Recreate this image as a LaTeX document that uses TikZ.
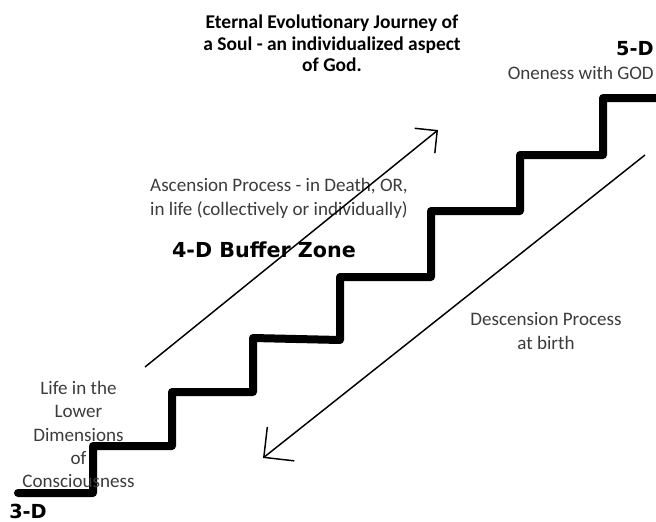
\documentclass[tikz,border=0pt]{standalone}
\usepackage{fontspec}
\setmainfont{Carlito}
\newfontfamily\dimfont{DejaVu Sans}
\usetikzlibrary{positioning}
\usetikzlibrary{arrows.meta}
\definecolor{textgray}{HTML}{3C3C3C}

\begin{document}
\begin{tikzpicture}[x=0.75pt,y=-0.75pt,
    plain/.style={text=textgray, font=\fontsize{14.3}{17.5}\selectfont, align=center, inner sep=0pt},
    heading/.style={text=black, font=\bfseries\fontsize{14.6}{16.2}\selectfont, align=center, inner sep=0pt},
    dimlabel/.style={text=black, font=\dimfont\bfseries\fontsize{14.5}{17}\selectfont, inner sep=0pt},
    stairs/.style={line width=6pt, line join=round, line cap=round},
    flow/.style={line width=1.1pt}]
		\useasboundingbox (0,0) rectangle (656,521);
		% the staircase
		\draw[stairs] (18,493) -- (93,493) -- (93,446) -- (172,446) -- (172,392) -- (253,392)
			-- (253,338) -- (340,340) -- (340,277) -- (431,277) -- (431,211) -- (520,211)
			-- (520,155) -- (603,155) -- (603,98) -- (660,98);
		% labels
		\node[heading] (title) at (332,43.5) {Eternal Evolutionary Journey of\\a Soul - an individualized aspect\\of God.};
		\node[dimlabel, anchor=east] (fived) at (654,49) {5-D};
		\node[plain, below=7pt of fived.south east, anchor=north east] (oneness) {Oneness with GOD};
		\node[plain] (ascension) at (279,198.5) {Ascension Process - in Death, OR,\\in life (collectively or individually)};
		\node[dimlabel, font=\dimfont\bfseries\fontsize{15.5}{18}\selectfont] (buffer) at (264,250) {4-D Buffer Zone};
		\node[plain] (descension) at (546,331) {Descension Process\\at birth};
		\node[plain] (lower) at (78.5,434.5) {Life in the\\Lower\\Dimensions\\of\\Consciousness};
		\node[dimlabel, anchor=west] (threed) at (9,511) {3-D};
		% the two journeys
		\coordinate (ascfrom) at (145,367);
		\coordinate (ascto) at (438,130);
		\coordinate (descfrom) at (645,155);
		\coordinate (descto) at (263,458);
		\draw[flow, -{Straight Barb[angle=90:17pt, line width=1.1pt]}] (ascfrom) -- (ascto);
		\draw[flow, -{Straight Barb[angle=90:23pt, line width=1.1pt]}] (descfrom) -- (descto);
\end{tikzpicture}
\end{document}
